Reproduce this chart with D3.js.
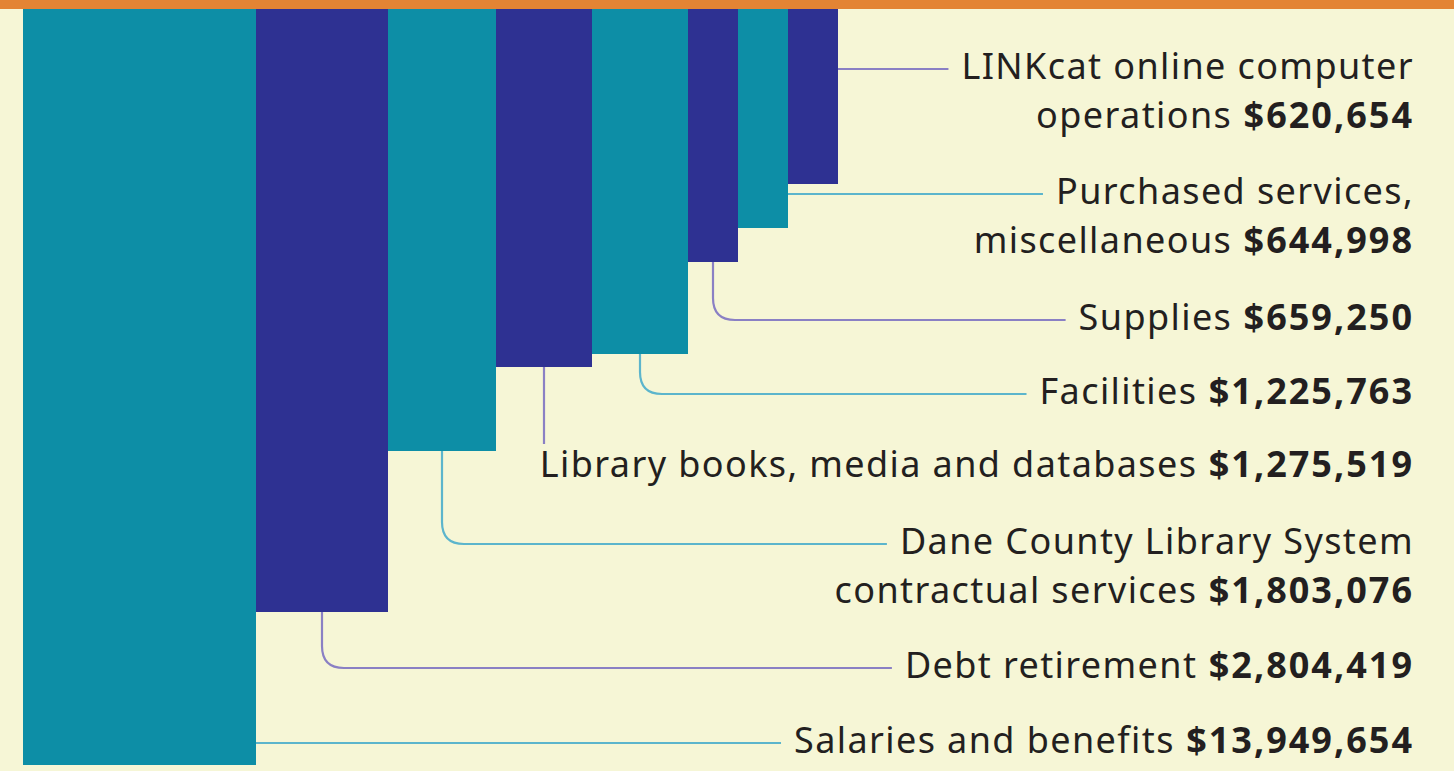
<!DOCTYPE html>
<html>
<head>
<meta charset="utf-8">
<script src="https://cdn.jsdelivr.net/npm/d3@7"></script>
<style>
  html, body { margin: 0; padding: 0; background: #f6f6d6; }
  svg { display: block; }
</style>
</head>
<body>
<svg id="chart" width="1454" height="771"></svg>
<script>
// data
const labelLines = [
  ["Salaries and benefits"],
  ["Debt retirement"],
  ["Dane County Library System", "contractual services"],
  ["Library books, media and databases"],
  ["Facilities"],
  ["Supplies"],
  ["Purchased services,", "miscellaneous"],
  ["LINKcat online computer", "operations"]
];
const values = [13949654, 2804419, 1803076, 1275519, 1225763, 659250, 644998, 620654];

// layout
const W = 1454, H = 771;
const barColors = ["#0d8ea6", "#2e3192"];
const lineColors = ["#5cb5cc", "#8a80c4"];
const labelRight = 1414;
const labelBaseline = [753, 678, 554, 477, 404, 330, 204, 79];
const lineHeight = 49;
const gap = 13, radius = 22;

const asc = values.slice().sort((a, b) => a - b);
// stylised graphic: piecewise scales from value to bar size
const heightScale = d3.scaleLinear().domain(asc)
  .range([184, 228, 262, 354, 367, 451, 612, 765]);
const widthScale = d3.scaleLinear().domain(asc)
  .range([50, 50, 50, 96, 96, 108, 132, 233]);

const fmt = v => "$" + d3.format(",")(v);

const bars = [];
let x0 = 23;
values.forEach((v, i) => {
  const w = widthScale(v);
  bars.push({i, v, x: x0, w, h: heightScale(v), lines: labelLines[i]});
  x0 += w;
});

const svg = d3.select("#chart");
svg.append("rect").attr("width", W).attr("height", H).attr("fill", "#f6f6d6");

svg.append("g")
  .selectAll("rect")
  .data(bars)
  .join("rect")
  .attr("x", d => d.x)
  .attr("y", 0)
  .attr("width", d => d.w)
  .attr("height", d => d.h)
  .attr("fill", d => barColors[d.i % 2]);

// labels
const gLab = svg.append("g")
  .attr("font-family", "'Noto Sans', sans-serif")
  .attr("font-size", 36)
  .attr("fill", "#231f20")
  .attr("text-anchor", "end");

bars.forEach(d => {
  const n = d.lines.length;
  d.lines.forEach((ln, k) => {
    const t = gLab.append("text")
      .attr("x", labelRight)
      .attr("y", labelBaseline[d.i] + k * lineHeight);
    t.append("tspan").text(ln).attr("letter-spacing", 1.4);
    if (k === n - 1) {
      t.append("tspan").text(" " + fmt(d.v))
        .attr("font-weight", 700)
        .attr("letter-spacing", 2);
    }
    const bb = t.node().getBBox();
    if (k === 0) d.textStart = bb.x;
  });
});

// leader lines
const gLines = svg.append("g").attr("fill", "none").attr("stroke-width", 2.2);
bars.forEach(d => {
  const ly = labelBaseline[d.i] - 10;
  const end = d.textStart - gap;
  const cx = d.x + d.w / 2;
  let p = d3.path();
  if (ly < d.h) {
    p.moveTo(d.x + d.w, ly);
    p.lineTo(end, ly);
  } else if (end > cx + radius) {
    p.moveTo(cx, d.h);
    p.lineTo(cx, ly - radius);
    p.quadraticCurveTo(cx, ly, cx + radius, ly);
    p.lineTo(end, ly);
  } else {
    p.moveTo(cx, d.h);
    p.lineTo(cx, labelBaseline[d.i] - 33);
  }
  gLines.append("path")
    .attr("d", p.toString())
    .attr("stroke", lineColors[d.i % 2]);
});

// top band
svg.append("rect").attr("width", W).attr("height", 9).attr("fill", "#e38434");
</script>
</body>
</html>
